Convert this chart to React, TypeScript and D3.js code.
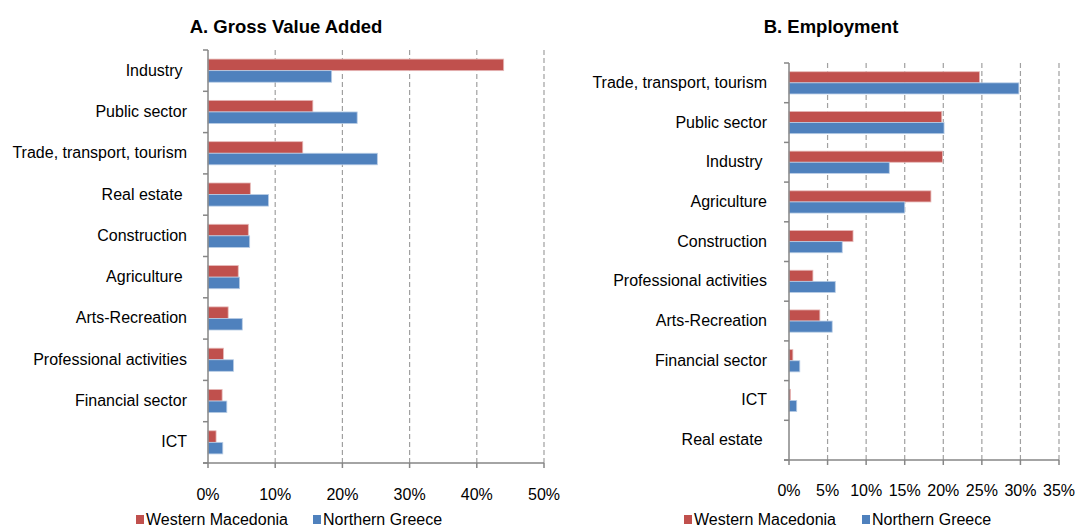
import * as d3 from "d3";

const seriesNames = ["Western Macedonia", "Northern Greece"];
const seriesColors = ["#C0504D", "#4F81BD"];
const seriesEdges = ["#E6B9B8", "#B9CDE5"];

// A. Gross Value Added (share, %)
const gvaCategories = [
  "Industry ",
  "Public sector",
  "Trade, transport, tourism",
  "Real estate ",
  "Construction",
  "Agriculture ",
  "Arts-Recreation",
  "Professional activities",
  "Financial sector",
  "ICT",
];
const gvaWestMac = [44.0, 15.6, 14.1, 6.3, 6.0, 4.5, 3.0, 2.3, 2.1, 1.2];
const gvaNorthGr = [18.4, 22.2, 25.2, 9.0, 6.2, 4.7, 5.1, 3.8, 2.8, 2.2];
const gvaTicks = [0, 10, 20, 30, 40, 50];

// B. Employment (share, %)
const empCategories = [
  "Trade, transport, tourism",
  "Public sector",
  "Industry ",
  "Agriculture",
  "Construction",
  "Professional activities",
  "Arts-Recreation",
  "Financial sector",
  "ICT",
  "Real estate ",
];
const empWestMac = [24.7, 19.8, 19.9, 18.4, 8.3, 3.1, 4.0, 0.5, 0.2, 0];
const empNorthGr = [29.8, 20.1, 13.0, 15.0, 6.9, 6.0, 5.6, 1.4, 1.0, 0];
const empTicks = [0, 5, 10, 15, 20, 25, 30, 35];

const FONT = "'Liberation Sans', Arial, sans-serif";
const AXIS = "#868686";
const GRID = "#A0A0A0";
const FS = 16;

type PanelProps = {
  title: string;
  titleX: number;
  categories: string[];
  series: number[][];
  ticks: number[];
  x0: number;
  x1: number;
  y0: number;
  y1: number;
  labelX: number;
  tickY: number;
  legendX: number[];
};

const Panel = (p: PanelProps) => {
  const xScale = d3
    .scaleLinear()
    .domain([0, p.ticks[p.ticks.length - 1]])
    .range([p.x0, p.x1]);
  const yScale = d3
    .scaleBand<string>()
    .domain(p.categories)
    .range([p.y0, p.y1])
    .padding(0);
  const barH = yScale.bandwidth() * 0.28;
  const inner = d3
    .scaleBand<number>()
    .domain([0, 1])
    .range([0, barH * 2]);

  const bounds = d3.range(p.categories.length + 1).map((i) => p.y0 + i * yScale.step());

  return (
    <g>
      <text
        x={p.titleX}
        y={33}
        textAnchor="middle"
        fontFamily={FONT}
        fontWeight="bold"
        fontSize={18.5}
        fill="#000"
      >
        {p.title}
      </text>

      {/* gridlines */}
      {p.ticks.slice(1).map((t) => (
        <line
          key={"g" + t}
          x1={xScale(t)}
          x2={xScale(t)}
          y1={p.y0}
          y2={p.y1}
          stroke={GRID}
          strokeWidth={1.2}
          strokeDasharray="5 3"
        />
      ))}

      {/* bars */}
      {p.categories.map((c, i) => {
        const yc = (yScale(c) as number) + yScale.bandwidth() / 2 - barH;
        return p.series.map((s, k) =>
          s[i] > 0 ? (
            <rect
              key={c + k}
              x={xScale(0)}
              y={yc + (inner(k) as number)}
              width={xScale(s[i]) - xScale(0)}
              height={inner.bandwidth()}
              fill={seriesColors[k]}
              stroke={seriesEdges[k]}
              strokeWidth={0.8}
            />
          ) : null
        );
      })}

      {/* axes */}
      <line x1={p.x0} x2={p.x0} y1={p.y0} y2={p.y1} stroke={AXIS} strokeWidth={1.5} />
      {bounds.map((b, i) => (
        <line key={"yt" + i} x1={p.x0 - 5} x2={p.x0} y1={b} y2={b} stroke={AXIS} strokeWidth={1.5} />
      ))}
      <line x1={p.x0 - 5} x2={p.x1} y1={p.y1} y2={p.y1} stroke={AXIS} strokeWidth={1.5} />
      {p.ticks.map((t) => (
        <line
          key={"xt" + t}
          x1={xScale(t)}
          x2={xScale(t)}
          y1={p.y1}
          y2={p.y1 + 5}
          stroke={AXIS}
          strokeWidth={1.5}
        />
      ))}

      {/* category labels */}
      {p.categories.map((c) => (
        <text
          key={"l" + c}
          x={p.labelX}
          y={(yScale(c) as number) + yScale.bandwidth() / 2 + 5}
          textAnchor="end"
          fontFamily={FONT}
          fontSize={FS}
          fill="#000"
          style={{ whiteSpace: "pre" }}
        >
          {c}
        </text>
      ))}

      {/* tick labels */}
      {p.ticks.map((t) => (
        <text
          key={"tl" + t}
          x={xScale(t)}
          y={p.tickY}
          textAnchor="middle"
          fontFamily={FONT}
          fontSize={FS}
          fill="#000"
        >
          {t + "%"}
        </text>
      ))}

      {/* legend */}
      {seriesNames.map((n, k) => (
        <g key={"lg" + n} transform={`translate(${p.legendX[k]},0)`}>
          <rect x={0} y={515} width={8} height={9} fill={seriesColors[k]} />
          <text x={10} y={525} fontFamily={FONT} fontSize={FS} fill="#000">
            {n}
          </text>
        </g>
      ))}
    </g>
  );
};

export default function App() {
  return (
    <svg
      width={1075}
      height={529}
      style={{ position: "absolute", left: 0, top: 0, background: "#fff" }}
    >
      <rect width={1075} height={529} fill="#fff" />
      <Panel
        title="A. Gross Value Added"
        titleX={286}
        categories={gvaCategories}
        series={[gvaWestMac, gvaNorthGr]}
        ticks={gvaTicks}
        x0={208}
        x1={544}
        y0={50}
        y1={463}
        labelX={187}
        tickY={500}
        legendX={[136, 313]}
      />
      <Panel
        title="B. Employment"
        titleX={831}
        categories={empCategories}
        series={[empWestMac, empNorthGr]}
        ticks={empTicks}
        x0={789}
        x1={1059}
        y0={63}
        y1={460}
        labelX={767}
        tickY={496}
        legendX={[684, 862]}
      />
    </svg>
  );
}
